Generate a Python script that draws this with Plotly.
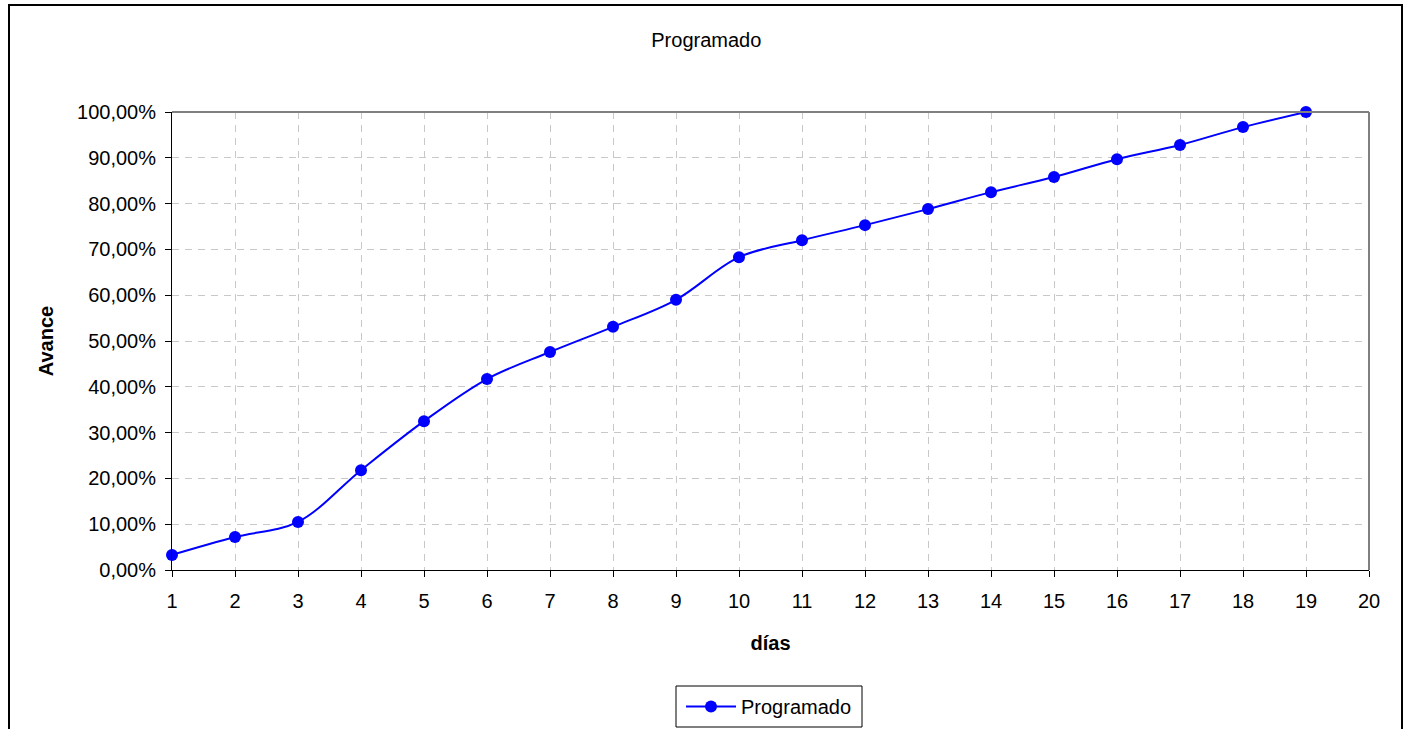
import plotly.graph_objects as go

dias = list(range(1, 20))
avance = [0.033, 0.072, 0.105, 0.218, 0.325, 0.417, 0.476, 0.531, 0.590, 0.683,
          0.720, 0.753, 0.788, 0.825, 0.858, 0.897, 0.928, 0.967, 1.000]
x_ticks = list(range(1, 21))
y_ticks = [i / 10 for i in range(0, 11)]

FONT = "Liberation Sans, Arial, sans-serif"
FS = 20

fig = go.Figure()
fig.add_trace(go.Scatter(
    x=dias, y=avance, mode="lines+markers", name="Programado",
    line=dict(color="#0000FF", width=2, shape="spline", smoothing=1.0),
    marker=dict(color="#0000FF", size=12),
    cliponaxis=False,
))

W, H = 1407, 729
L, R, T, B = 172, 38, 112, 159
pw, ph = W - L - R, H - T - B

def px_x(x):
    return (x - L) / pw

def px_y(y):
    return (H - B - y) / ph

fig.update_layout(
    width=W, height=H,
    margin=dict(l=L, r=R, t=T, b=B, autoexpand=False),
    paper_bgcolor="white", plot_bgcolor="white",
    font=dict(family=FONT, size=FS, color="black"),
    separators=",.",
    title=dict(text="Programado", x=0.502, xanchor="center", y=1 - 40 / H,
               yanchor="middle", font=dict(size=FS)),
    showlegend=True,
    legend=dict(x=px_x(769), xanchor="center", y=px_y(706.5), yanchor="middle",
                orientation="h", borderwidth=0, itemwidth=50,
                font=dict(size=FS), bgcolor="rgba(0,0,0,0)"),
    xaxis=dict(range=[1, 20], tickvals=x_ticks, ticks="outside", ticklen=6,
               ticklabelstandoff=7,
               tickcolor="black", showline=True, linecolor="black", linewidth=1,
               showgrid=True, gridcolor="#C8C8C8", griddash="7px,6px", gridwidth=1,
               zeroline=False, automargin=False,
               title=dict(text="<b>días</b>", standoff=24, font=dict(size=FS))),
    yaxis=dict(range=[0, 1], tickvals=y_ticks, tickformat=".2%", ticks="outside",
               ticklen=6, ticklabelstandoff=5, tickcolor="black", showline=True,
               linecolor="black",
               linewidth=1, showgrid=True, gridcolor="#C8C8C8", griddash="7px,6px",
               gridwidth=1, zeroline=False, automargin=False,
               title=dict(text="<b>Avance</b>", standoff=18, font=dict(size=FS))),
    shapes=[
        dict(type="line", xref="paper", yref="paper", x0=0, x1=1, y0=1, y1=1,
             line=dict(color="#808080", width=2)),
        dict(type="line", xref="paper", yref="paper", x0=1, x1=1, y0=0, y1=1,
             line=dict(color="#808080", width=2)),
        dict(type="rect", xref="paper", yref="paper",
             x0=px_x(9), x1=px_x(1402), y0=px_y(740), y1=px_y(5),
             line=dict(color="black", width=2), fillcolor="rgba(0,0,0,0)"),
        dict(type="rect", xref="paper", yref="paper",
             x0=px_x(676), x1=px_x(862), y0=px_y(727), y1=px_y(686),
             line=dict(color="black", width=1), fillcolor="rgba(0,0,0,0)"),
    ],
)

fig.write_html("out.html", config={"displayModeBar": False},
               post_script="document.body.style.margin='0';document.body.style.padding='0';")
